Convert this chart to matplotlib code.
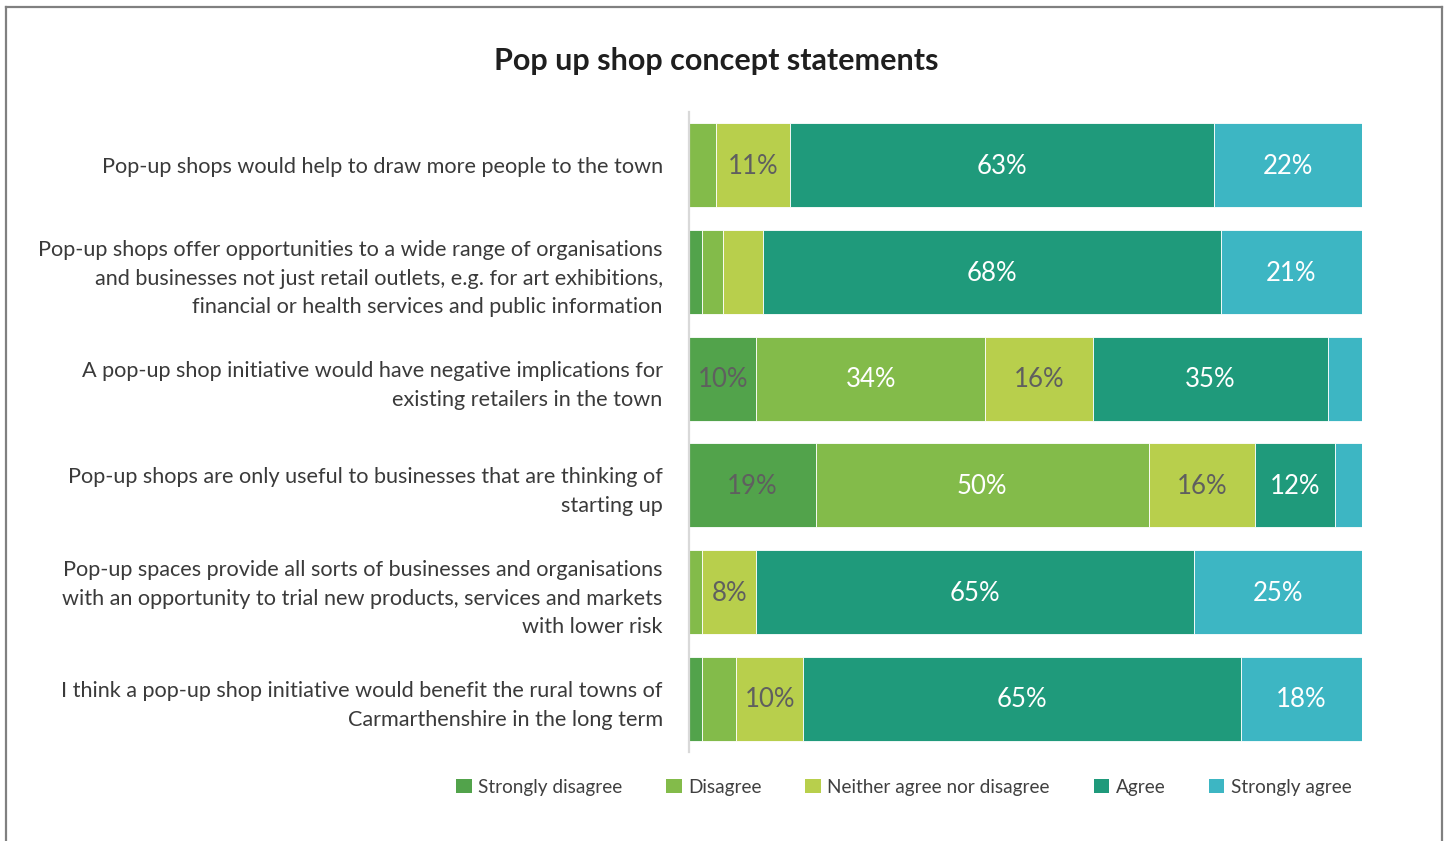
import matplotlib
matplotlib.use("Agg")
import matplotlib.pyplot as plt
from matplotlib.lines import Line2D
from matplotlib.patches import Patch
import numpy as np

plt.rcParams['font.family'] = ['Lato', 'DejaVu Sans']

statements = [
    "Pop-up shops would help to draw more people to the town",
    "Pop-up shops offer opportunities to a wide range of organisations\n"
    "and businesses not just retail outlets, e.g. for art exhibitions,\n"
    "financial or health services and public information",
    "A pop-up shop initiative would have negative implications for\n"
    "existing retailers in the town",
    "Pop-up shops are only useful to businesses that are thinking of\n"
    "starting up",
    "Pop-up spaces provide all sorts of businesses and organisations\n"
    "with an opportunity to trial new products, services and markets\n"
    "with lower risk",
    "I think a pop-up shop initiative would benefit the rural towns of\n"
    "Carmarthenshire in the long term",
]

responses = ["Strongly disagree", "Disagree", "Neither agree nor disagree",
             "Agree", "Strongly agree"]

strongly_disagree = [0, 2, 10, 19, 0, 2]
disagree = [4, 3, 34, 50, 2, 5]
neither = [11, 6, 16, 16, 8, 10]
agree = [63, 68, 35, 12, 65, 65]
strongly_agree = [22, 21, 5, 4, 25, 18]

colors = ["#52a34b", "#83bb4a", "#b8cf4c", "#1f9a7b", "#3db6c3"]
label_colors = ["#5f5f5f", "#ffffff", "#5f5f5f", "#ffffff", "#ffffff"]

series = np.array([strongly_disagree, disagree, neither, agree, strongly_agree],
                  dtype=float)
shares = series / series.sum(axis=0) * 100

fig = plt.figure(figsize=(14.5, 8.41), dpi=100)
ax = fig.add_axes([0.4752, 0.1058, 0.4641, 0.7610])

y = np.arange(len(statements))
left = np.zeros(len(statements))
for i, name in enumerate(responses):
    ax.barh(y, shares[i], left=left, height=0.79, color=colors[i],
            edgecolor="#ffffff", linewidth=0.6, label=name)
    for j in range(len(statements)):
        v = series[i, j]
        if v >= 8:
            ax.text(left[j] + shares[i, j] / 2, y[j] + 0.01, f"{v:.0f}%",
                    ha="center", va="center", fontsize=18.5,
                    color=label_colors[i])
    left += shares[i]

ax.set_xlim(0, 100)
ax.set_ylim(len(statements) - 0.5, -0.5)
ax.set_yticks(y)
ax.set_yticklabels(statements, fontsize=15.6, color="#3a3a3a",
                   linespacing=1.56)
ax.tick_params(axis="y", length=0, pad=19)
ax.set_xticks([])
for side in ("top", "right", "bottom"):
    ax.spines[side].set_visible(False)
ax.spines["left"].set_color("#d9d9d9")
ax.spines["left"].set_linewidth(1.6)

fig.text(716 / 1450, 1 - 61 / 841, "Pop up shop concept statements",
         ha="center", va="center", fontsize=22, fontweight="bold",
         color="#1f1f1f")

handles = [Patch(facecolor=c, edgecolor="none") for c in colors]
fig.legend(handles, responses, loc="center",
           bbox_to_anchor=(904 / 1450, 1 - 787 / 841), ncol=5, frameon=False,
           fontsize=13.7, handlelength=0.8, handleheight=0.8,
           handletextpad=0.35, columnspacing=2.3, labelcolor="#404040")

# outer frame
frame_kw = dict(color="#808080", linewidth=1.6, transform=fig.transFigure)
fig.add_artist(Line2D([6 / 1450, 6 / 1450], [0, 1 - 7 / 841], **frame_kw))
fig.add_artist(Line2D([6 / 1450, 1442 / 1450], [1 - 7 / 841, 1 - 7 / 841], **frame_kw))
fig.add_artist(Line2D([1442 / 1450, 1442 / 1450], [0, 1 - 7 / 841], **frame_kw))

fig.savefig("out.png", dpi=100)
